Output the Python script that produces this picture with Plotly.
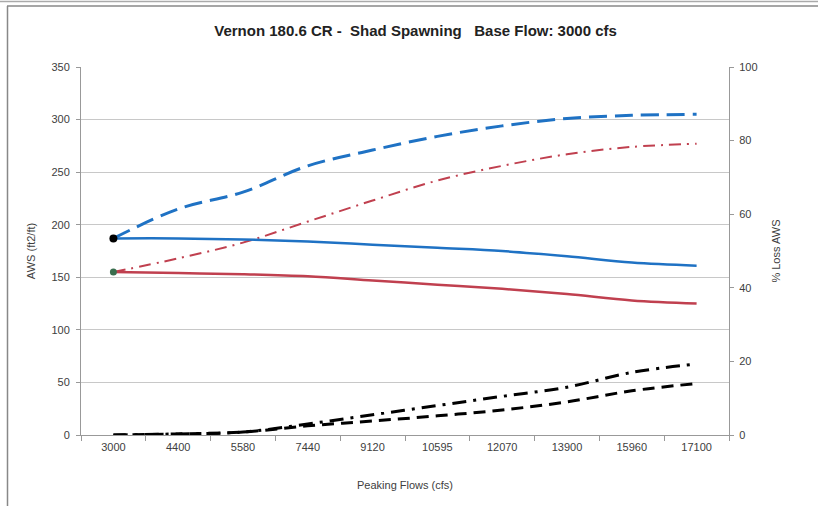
import plotly.graph_objects as go

flows = ["3000", "4400", "5580", "7440", "9120", "10595", "12070", "13900", "15960", "17100"]

aws_blue = [187, 187, 186, 184, 181, 178, 175, 170, 164, 161]
aws_red = [155, 154, 153, 151, 147, 143, 139, 134, 128, 125]
aws_blue_dash = [187, 215, 231, 256, 271, 284, 294, 301, 304, 305]
aws_red_dashdot = [155, 168, 183, 203, 223, 242, 256, 267, 274, 277]
loss_red = [0, 0.3, 0.8, 3.0, 5.5, 8.0, 10.5, 13.0, 17.0, 19.3]
loss_blue = [0, 0.3, 0.8, 2.5, 3.8, 5.2, 6.8, 9.0, 12.0, 14.0]

BLUE = "#1f72c4"
RED = "#c0404f"
GREEN = "#3a6e4e"

fig = go.Figure()

fig.add_trace(go.Scatter(x=flows, y=aws_blue_dash, mode="lines",
                         line=dict(color=BLUE, width=3, dash="18px,8px", shape="spline"),
                         showlegend=False))
fig.add_trace(go.Scatter(x=flows, y=aws_red_dashdot, mode="lines",
                         line=dict(color=RED, width=2, dash="12px,6px,2px,6px", shape="spline"),
                         showlegend=False))
fig.add_trace(go.Scatter(x=flows, y=aws_blue, mode="lines",
                         line=dict(color=BLUE, width=2.5, shape="spline"),
                         showlegend=False))
fig.add_trace(go.Scatter(x=flows, y=aws_red, mode="lines",
                         line=dict(color=RED, width=2.5, shape="spline"),
                         showlegend=False))
fig.add_trace(go.Scatter(x=flows, y=loss_red, mode="lines", yaxis="y2",
                         line=dict(color="black", width=3, dash="14px,7px,3px,7px", shape="spline"),
                         showlegend=False))
fig.add_trace(go.Scatter(x=flows, y=loss_blue, mode="lines", yaxis="y2",
                         line=dict(color="black", width=3, dash="12px,7px", shape="spline"),
                         showlegend=False))
fig.add_trace(go.Scatter(x=flows[:1], y=aws_blue[:1], mode="markers",
                         marker=dict(color="black", size=8), showlegend=False))
fig.add_trace(go.Scatter(x=flows[:1], y=aws_red[:1], mode="markers",
                         marker=dict(color=GREEN, size=7), showlegend=False))

tickfont = dict(family="Liberation Sans, Arial, sans-serif", size=11, color="#404040")

fig.update_layout(
    width=818, height=506,
    margin=dict(l=81, r=89, t=67, b=71, autoexpand=False),
    paper_bgcolor="white", plot_bgcolor="white",
    font=dict(family="Liberation Sans, Arial, sans-serif", color="#404040"),
    title=dict(text="<b>Vernon 180.6 CR -  Shad Spawning   Base Flow: 3000 cfs</b>",
               x=0.508, xanchor="center", y=0.94, yanchor="middle",
               font=dict(size=15, color="#222222")),
    xaxis=dict(type="category", range=[-0.5, 9.5], tickfont=tickfont, automargin=False,
               showline=True, linecolor="#999999", linewidth=1,
               ticks="outside", tickson="boundaries", ticklen=5, tickcolor="#999999",
               ticklabelstandoff=2,
               showgrid=False, zeroline=False,
               title=dict(text="Peaking Flows (cfs)", font=dict(size=11, color="#404040"), standoff=29)),
    yaxis=dict(range=[0, 350], dtick=50, tickfont=tickfont, automargin=False,
               showline=True, linecolor="#999999", linewidth=1,
               ticks="outside", ticklen=4, tickcolor="#999999", ticklabelstandoff=4,
               showgrid=True, gridcolor="#c8c8c8", gridwidth=1, zeroline=False,
               title=dict(text="AWS (ft2/ft)", font=dict(size=11, color="#404040"), standoff=13)),
    yaxis2=dict(range=[0, 100], dtick=20, overlaying="y", side="right", tickfont=tickfont,
                automargin=False,
                showline=True, linecolor="#999999", linewidth=1,
                ticks="outside", ticklen=4, tickcolor="#999999", ticklabelstandoff=3,
                showgrid=False, zeroline=False,
                title=dict(text="% Loss AWS", font=dict(size=11, color="#404040"), standoff=15)),
)

# chart frame
fig.add_shape(type="line", xref="paper", yref="paper", x0=(7 - 81) / 648, x1=(818 - 81) / 648,
              y0=(435 - 6) / 368, y1=(435 - 6) / 368, line=dict(color="#888888", width=1.5),
              layer="above")
fig.add_shape(type="line", xref="paper", yref="paper", x0=-0.2, x1=1.2,
              y0=(435 - 1.5) / 368, y1=(435 - 1.5) / 368, line=dict(color="#aaaaaa", width=1.5),
              layer="above")
fig.add_shape(type="line", xref="paper", yref="paper", x0=(7.5 - 81) / 648, x1=(7.5 - 81) / 648,
              y0=(435 - 6) / 368, y1=(435 - 510) / 368, line=dict(color="#888888", width=1.5),
              layer="above")

fig.write_html("out.html", config={"displayModeBar": False},
               post_script="document.body.style.margin='0';document.body.style.overflow='hidden';")
